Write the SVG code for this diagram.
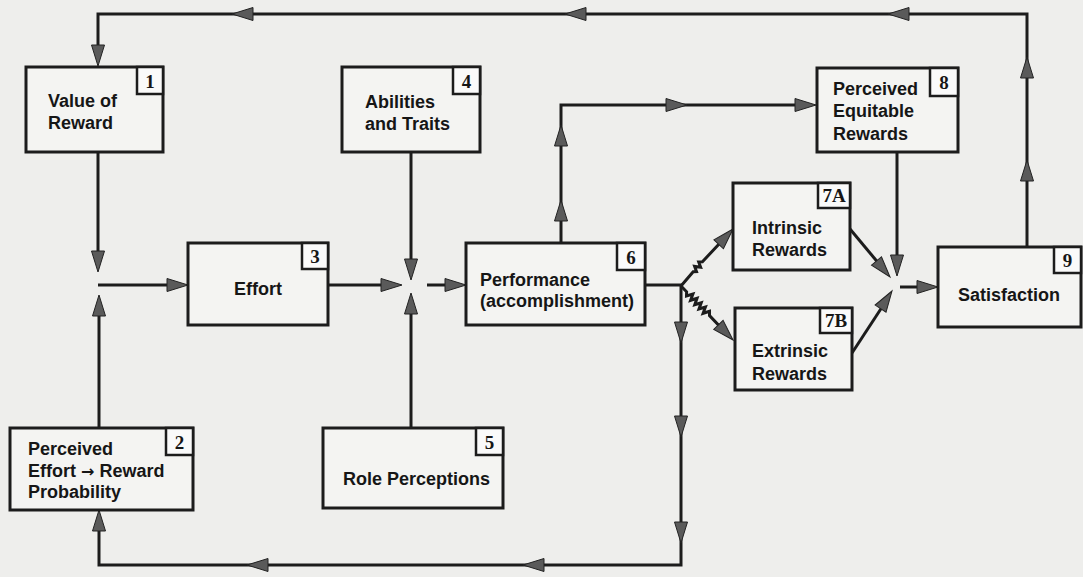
<svg xmlns="http://www.w3.org/2000/svg" xmlns:xlink="http://www.w3.org/1999/xlink" width="1083" height="577" viewBox="0 0 1083 577">
<style>
.box{fill:#f4f4f2;stroke:#1c1c1c;stroke-width:3}
.num{fill:#fafafa;stroke:#1c1c1c;stroke-width:2.5}
.t{font-family:"Liberation Sans",Arial,sans-serif;font-weight:bold;font-size:18px;fill:#161616}
.arr{font-family:"DejaVu Sans",sans-serif;font-weight:bold;font-size:16px}
.n{font-family:"Liberation Serif","Times New Roman",serif;font-weight:bold;font-size:19px;fill:#161616;text-anchor:middle}
.ln{fill:none;stroke:#1c1c1c;stroke-width:3;stroke-linejoin:miter}
.ah{fill:#5a5a5a;stroke:#222;stroke-width:1}
</style>
<defs>
<path id="ah" d="M0,0 L-21,-6.5 L-21,6.5 Z"/>
</defs>
<rect width="1083" height="577" fill="#eeeeec"/>

<g id="connectors">
<path class="ln" d="M1027,247 V14 H98 V58"/>
<path class="ln" d="M98,152 V264"/>
<path class="ln" d="M99,428 V303"/>
<path class="ln" d="M98,285 H180"/>
<path class="ln" d="M328,285 H394"/>
<path class="ln" d="M411,152 V272"/>
<path class="ln" d="M411,428 V301"/>
<path class="ln" d="M427,285 H458"/>
<path class="ln" d="M561,243 V105 H808"/>
<path class="ln" d="M645,285 H681 V565 H99 V518"/>
<path class="ln" d="M681,286 L693.2,271.8 L696.5,271.6 L694.6,266.4 L700.6,267.2 L698.7,262.0 L702.4,261.8 L727,235.5"/>
<path class="ln" d="M681,286 L686.6,291.8 L686.5,296.0 L692.9,294.0 L690.6,300.3 L697.0,298.3 L694.8,304.7 L701.2,302.7 L699.0,309.0 L705.4,307.0 L703.1,313.3 L709.5,311.3 L709.5,315.6 L727,334"/>
<path class="ln" d="M850,229 L885,271"/>
<path class="ln" d="M852,353 L888,298"/>
<path class="ln" d="M897,152 V268"/>
<path class="ln" d="M900,287 H930"/>
<g class="ah">
<use xlink:href="#ah" transform="translate(98,66) rotate(90)"/>
<use xlink:href="#ah" transform="translate(1027,57) rotate(-90)"/>
<use xlink:href="#ah" transform="translate(1027,160) rotate(-90)"/>
<use xlink:href="#ah" transform="translate(888,14) rotate(180)"/>
<use xlink:href="#ah" transform="translate(565,14) rotate(180)"/>
<use xlink:href="#ah" transform="translate(232,14) rotate(180)"/>
<use xlink:href="#ah" transform="translate(98,272) rotate(90)"/>
<use xlink:href="#ah" transform="translate(99,295) rotate(-90)"/>
<use xlink:href="#ah" transform="translate(188,285)"/>
<use xlink:href="#ah" transform="translate(402,285)"/>
<use xlink:href="#ah" transform="translate(411,280) rotate(90)"/>
<use xlink:href="#ah" transform="translate(411,293) rotate(-90)"/>
<use xlink:href="#ah" transform="translate(466,285)"/>
<use xlink:href="#ah" transform="translate(561,200) rotate(-90)"/>
<use xlink:href="#ah" transform="translate(561,125) rotate(-90)"/>
<use xlink:href="#ah" transform="translate(687,105)"/>
<use xlink:href="#ah" transform="translate(816,105)"/>
<use xlink:href="#ah" transform="translate(681,343) rotate(90)"/>
<use xlink:href="#ah" transform="translate(681,437) rotate(90)"/>
<use xlink:href="#ah" transform="translate(681,543) rotate(90)"/>
<use xlink:href="#ah" transform="translate(523,565) rotate(180)"/>
<use xlink:href="#ah" transform="translate(247,565) rotate(180)"/>
<use xlink:href="#ah" transform="translate(99,510) rotate(-90)"/>
<use xlink:href="#ah" transform="translate(733,229) rotate(-47)"/>
<use xlink:href="#ah" transform="translate(733,340) rotate(46)"/>
<use xlink:href="#ah" transform="translate(890,277) rotate(50)"/>
<use xlink:href="#ah" transform="translate(892,291) rotate(-57)"/>
<use xlink:href="#ah" transform="translate(897,276) rotate(90)"/>
<use xlink:href="#ah" transform="translate(938,287)"/>
</g>
</g>

<g id="node1">
<rect class="box" x="26" y="67" width="137" height="85"/>
<rect class="num" x="137" y="67" width="26" height="27"/>
<text class="n" x="150" y="88">1</text>
<text class="t" x="48" y="107">Value of</text>
<text class="t" x="48" y="129">Reward</text>
</g>
<g id="node2">
<rect class="box" x="10" y="428" width="183" height="82"/>
<rect class="num" x="166" y="428" width="27" height="27"/>
<text class="n" x="179.5" y="449">2</text>
<text class="t" x="28" y="455">Perceived</text>
<text class="t" x="28" y="477">Effort <tspan class="arr">→</tspan> Reward</text>
<text class="t" x="28" y="498">Probability</text>
</g>
<g id="node3">
<rect class="box" x="188" y="243" width="140" height="82"/>
<rect class="num" x="302" y="243" width="26" height="26"/>
<text class="n" x="315" y="263">3</text>
<text class="t" x="258" y="295" text-anchor="middle">Effort</text>
</g>
<g id="node4">
<rect class="box" x="342" y="67" width="138" height="85"/>
<rect class="num" x="453" y="67" width="27" height="27"/>
<text class="n" x="466.5" y="88">4</text>
<text class="t" x="365" y="108">Abilities</text>
<text class="t" x="365" y="130">and Traits</text>
</g>
<g id="node5">
<rect class="box" x="323" y="428" width="180" height="80"/>
<rect class="num" x="476" y="428" width="27" height="27"/>
<text class="n" x="489.5" y="449">5</text>
<text class="t" x="343" y="485">Role Perceptions</text>
</g>
<g id="node6">
<rect class="box" x="466" y="243" width="179" height="82"/>
<rect class="num" x="617" y="243" width="28" height="27"/>
<text class="n" x="631" y="264">6</text>
<text class="t" x="480" y="286">Performance</text>
<text class="t" x="480" y="307">(accomplishment)</text>
</g>
<g id="node7A">
<rect class="box" x="733" y="183" width="117" height="87"/>
<rect class="num" x="818" y="183" width="32" height="25"/>
<text class="n" x="834" y="202">7A</text>
<text class="t" x="752" y="234">Intrinsic</text>
<text class="t" x="752" y="256">Rewards</text>
</g>
<g id="node7B">
<rect class="box" x="735" y="308" width="117" height="82"/>
<rect class="num" x="820" y="308" width="32" height="25"/>
<text class="n" x="836" y="327">7B</text>
<text class="t" x="752" y="357">Extrinsic</text>
<text class="t" x="752" y="380">Rewards</text>
</g>
<g id="node8">
<rect class="box" x="817" y="68" width="141" height="84"/>
<rect class="num" x="930" y="68" width="28" height="28"/>
<text class="n" x="944" y="89">8</text>
<text class="t" x="833" y="95">Perceived</text>
<text class="t" x="833" y="117">Equitable</text>
<text class="t" x="833" y="140">Rewards</text>
</g>
<g id="node9">
<rect class="box" x="938" y="247" width="143" height="80"/>
<rect class="num" x="1054" y="247" width="27" height="26"/>
<text class="n" x="1067.5" y="267">9</text>
<text class="t" x="958" y="301">Satisfaction</text>
</g>
</svg>
